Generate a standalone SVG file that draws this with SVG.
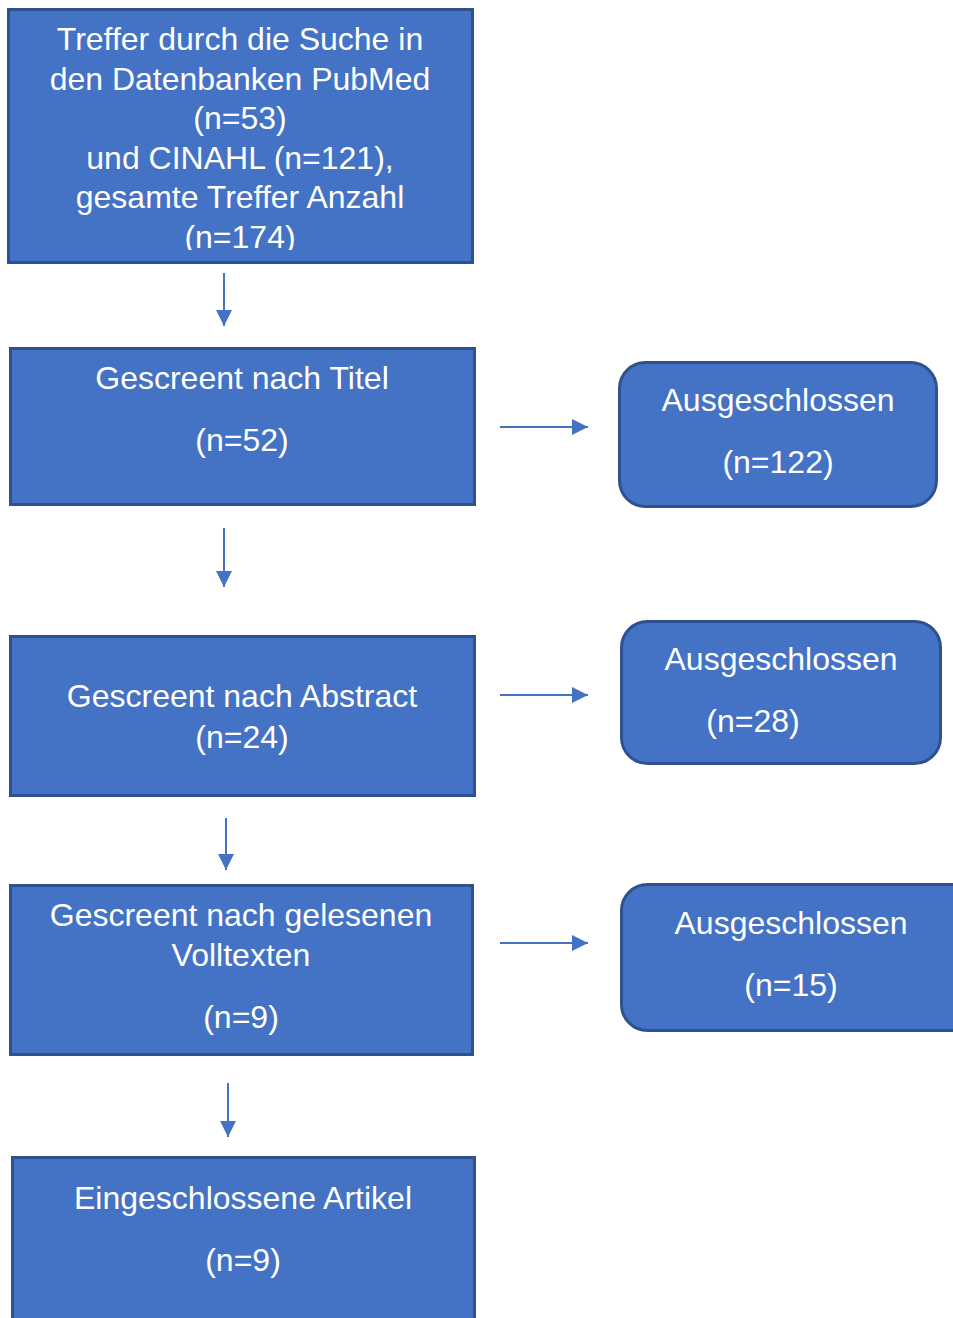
<svg xmlns="http://www.w3.org/2000/svg" width="953" height="1318" viewBox="0 0 953 1318">
<style>
.box{fill:#4472C4;stroke:#2F528F;stroke-width:3}
.t{fill:#FFFFFF;font-family:"Liberation Sans",Arial,sans-serif;font-size:32px;text-anchor:middle}
.c{stroke:#4472C4;stroke-width:2;fill:none}
</style>
<defs>
<marker id="ah" markerUnits="userSpaceOnUse" markerWidth="16" markerHeight="16" refX="16" refY="8" orient="auto">
<path d="M0,0 L16,8 L0,16 Z" fill="#4472C4"/>
</marker>
<clipPath id="clip1"><rect x="8" y="9" width="465" height="241"/></clipPath>
</defs>
<rect width="953" height="1318" fill="#FFFFFF"/>
<g id="n1">
<rect class="box" x="8.5" y="9.5" width="464" height="253"/>
<g clip-path="url(#clip1)">
<text class="t" x="240" y="50">Treffer durch die Suche in</text>
<text class="t" x="240" y="90">den Datenbanken PubMed</text>
<text class="t" x="240" y="129">(n=53)</text>
<text class="t" x="240" y="169">und CINAHL (n=121),</text>
<text class="t" x="240" y="208">gesamte Treffer Anzahl</text>
<text class="t" x="240" y="248">(n=174)</text>
</g>
</g>
<g id="n2">
<rect class="box" x="10.5" y="348.5" width="464" height="156"/>
<text class="t" x="242" y="389">Gescreent nach Titel</text>
<text class="t" x="242" y="451">(n=52)</text>
</g>
<g id="x1">
<rect class="box" x="619.5" y="362.5" width="317" height="144" rx="26"/>
<text class="t" x="778" y="411">Ausgeschlossen</text>
<text class="t" x="778" y="473">(n=122)</text>
</g>
<g id="n3">
<rect class="box" x="10.5" y="636.5" width="464" height="159"/>
<text class="t" x="242" y="707">Gescreent nach Abstract</text>
<text class="t" x="242" y="748">(n=24)</text>
</g>
<g id="x2">
<rect class="box" x="621.5" y="621.5" width="319" height="142" rx="26"/>
<text class="t" x="781" y="670">Ausgeschlossen</text>
<text class="t" x="753" y="732">(n=28)</text>
</g>
<g id="n4">
<rect class="box" x="10.5" y="885.5" width="462" height="169"/>
<text class="t" x="241" y="926">Gescreent nach gelesenen</text>
<text class="t" x="241" y="966">Volltexten</text>
<text class="t" x="241" y="1028">(n=9)</text>
</g>
<g id="x3">
<rect class="box" x="621.5" y="884.5" width="360" height="146" rx="26"/>
<text class="t" x="791" y="934">Ausgeschlossen</text>
<text class="t" x="791" y="996">(n=15)</text>
</g>
<g id="n5">
<rect class="box" x="12.5" y="1157.5" width="462" height="200"/>
<text class="t" x="243" y="1209">Eingeschlossene Artikel</text>
<text class="t" x="243" y="1271">(n=9)</text>
</g>
<g id="connectors">
<line class="c" x1="224" y1="273" x2="224" y2="326" marker-end="url(#ah)"/>
<line class="c" x1="224" y1="528" x2="224" y2="587" marker-end="url(#ah)"/>
<line class="c" x1="226" y1="818" x2="226" y2="870" marker-end="url(#ah)"/>
<line class="c" x1="228" y1="1083" x2="228" y2="1137" marker-end="url(#ah)"/>
<line class="c" x1="500" y1="427" x2="588" y2="427" marker-end="url(#ah)"/>
<line class="c" x1="500" y1="695" x2="588" y2="695" marker-end="url(#ah)"/>
<line class="c" x1="500" y1="943" x2="588" y2="943" marker-end="url(#ah)"/>
</g>
</svg>
